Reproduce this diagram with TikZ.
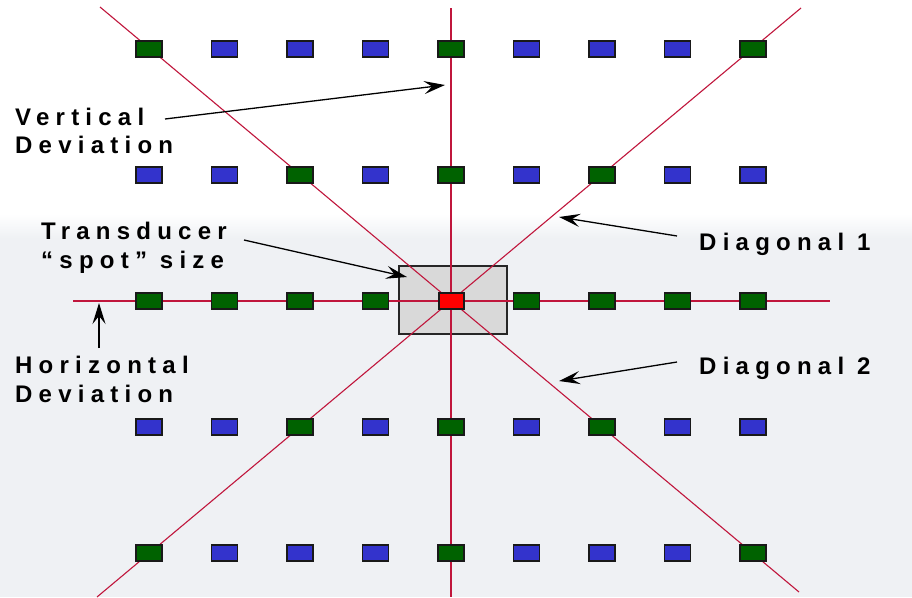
\documentclass[tikz,border=0pt]{standalone}
\usepackage{fontspec}
\usetikzlibrary{arrows.meta}
\newfontfamily\lblfont{Liberation Sans}[BoldFont={Liberation Sans Bold}, LetterSpace=26]
\definecolor{gridline}{HTML}{C0163C}
\definecolor{cellgreen}{HTML}{006200}
\definecolor{cellblue}{HTML}{3333CC}
\definecolor{cellred}{HTML}{FF0000}
\definecolor{bglow}{HTML}{EFF1F4}
\definecolor{spotgray}{HTML}{D9D9D9}
\tikzset{
  cell/.style={draw=black!90, line width=1.1pt, minimum width=26pt, minimum height=16pt, inner sep=0pt},
  gcell/.style={cell, fill=cellgreen},
  bcell/.style={cell, fill=cellblue},
  rcell/.style={cell, fill=cellred, minimum width=25pt},
  devline/.style={draw=gridline, line width=1.1pt},
  lbl/.style={font=\lblfont\bfseries\fontsize{24}{28}\selectfont, text=black, inner sep=0pt, anchor=base west},
  callout/.style={draw=black, line width=1.3pt, -{Stealth[length=21pt,width=13pt,inset=8pt]}},
}
\begin{document}
\begin{tikzpicture}[x=1pt,y=-1pt]
\useasboundingbox (0,0) rectangle (912,597);
% background
\fill[white] (0,0) rectangle (912,597);
\shade[top color=white, bottom color=bglow] (0,214) rectangle (912,238);
\fill[bglow] (0,237.5) rectangle (912,597);
% spot size box
\node[draw=black!85, line width=1.2pt, fill=spotgray, minimum width=108pt, minimum height=68pt, inner sep=0pt] (spot) at (453,300) {};
% line ends
\coordinate (vtop) at (451,8);
\coordinate (vbot) at (451,597);
\coordinate (hl) at (73,301);
\coordinate (hr) at (830,301);
\coordinate (d1top) at (801,8);
\coordinate (d1bot) at (97,597);
\coordinate (d2top) at (100,7);
\coordinate (d2bot) at (799,592);
\draw[devline] (vtop) -- (vbot);
\draw[devline] (hl) -- (hr);
\draw[devline] (d1bot) -- (d1top);
\draw[devline] (d2top) -- (d2bot);
% grid cells
\foreach \r/\y in {1/49,5/553}{
  \foreach \c in {0,...,8}{
    \pgfmathsetmacro\xx{149+75.5*\c}
    \ifnum\c=0 \node[gcell] (c\r\c) at (\xx,\y) {};
    \else\ifnum\c=4 \node[gcell] (c\r\c) at (\xx,\y) {};
    \else\ifnum\c=8 \node[gcell] (c\r\c) at (\xx,\y) {};
    \else \node[bcell] (c\r\c) at (\xx,\y) {};
    \fi\fi\fi
  }
}
\foreach \r/\y in {2/175,4/427}{
  \foreach \c in {0,...,8}{
    \pgfmathsetmacro\xx{149+75.5*\c}
    \ifnum\c=2 \node[gcell] (c\r\c) at (\xx,\y) {};
    \else\ifnum\c=4 \node[gcell] (c\r\c) at (\xx,\y) {};
    \else\ifnum\c=6 \node[gcell] (c\r\c) at (\xx,\y) {};
    \else \node[bcell] (c\r\c) at (\xx,\y) {};
    \fi\fi\fi
  }
}
\foreach \c in {0,...,8}{
  \pgfmathsetmacro\xx{149+75.5*\c}
  \ifnum\c=4 \node[rcell] (c3\c) at (451.5,301) {};
  \else \node[gcell] (c3\c) at (\xx,301) {};
  \fi
}
% labels
\node[lbl] (vert1) at (15,125) {Vertical};
\node[lbl] (vert2) at (15,153) {Deviation};
\node[lbl] (trans1) at (41,239) {Transducer};
\node[lbl] (trans2) at (41,268) {“spot” size};
\node[lbl] (diag1) at (699,250) {Diagonal 1};
\node[lbl] (diag2) at (699,374) {Diagonal 2};
\node[lbl] (horiz1) at (15,373) {Horizontal};
\node[lbl] (horiz2) at (15,402) {Deviation};
% callouts
\coordinate (vs) at (165,119);  \coordinate (vt) at (445,85);
\coordinate (ts) at (244,240);  \coordinate (tt) at (407,277);
\coordinate (d1s) at (677,236); \coordinate (d1t) at (559,217);
\coordinate (hs) at (99,348);   \coordinate (ht) at (99,303);
\coordinate (d2s) at (677,362); \coordinate (d2t) at (559,381);
\draw[callout] (vs) -- (vt);
\draw[callout] (ts) -- (tt);
\draw[callout] (d1s) -- (d1t);
\draw[callout] (hs) -- (ht);
\draw[callout] (d2s) -- (d2t);
\end{tikzpicture}
\end{document}
